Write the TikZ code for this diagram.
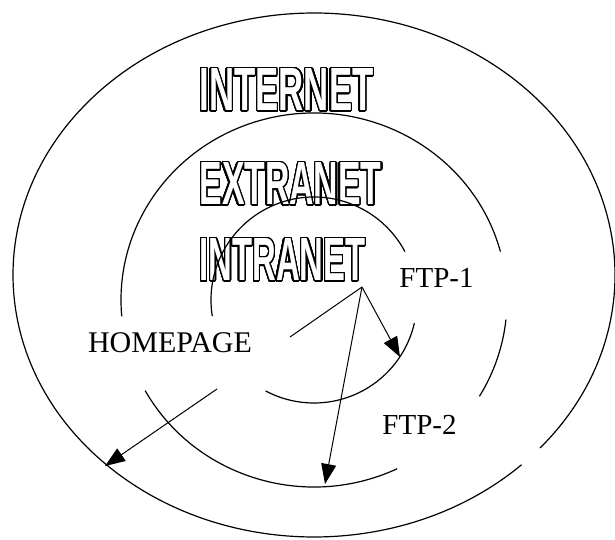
\documentclass[tikz,border=0pt]{standalone}
\usepackage{fontspec}
\setmainfont{Liberation Serif}
\newfontfamily\netfont{Liberation Sans}
\usepackage{graphicx}
\usepackage{contour}
\contourlength{1.4pt}
\contournumber{32}
\usetikzlibrary{arrows.meta}
\tikzset{
  ring/.style={line width=1.2pt},
  conn/.style={line width=1pt},
  arr/.style={conn, -{Triangle[length=20pt,width=15pt]}},
  lbl/.style={font=\fontsize{30}{36}\selectfont, inner sep=0pt, anchor=base},
  netlbl/.style={text=white, inner sep=0pt, anchor=center}
}
\newcommand\netword[3]{\contour{black}{\resizebox{#1pt}{#2pt}{\netfont\bfseries #3}}}
\begin{document}
\begin{tikzpicture}[x=1pt,y=1pt]
\useasboundingbox (0,0) rectangle (615,539);
\fill[white] (0,0) rectangle (615,539);
% words
\node[netlbl] (internet) at (286.5,448.5) {\netword{174}{42}{INTERNET}};
\node[netlbl] (extranet) at (290.5,354.5) {\netword{182}{42}{EXTRANET}};
\node[netlbl] (intranet) at (282.5,278.5) {\netword{166}{42}{INTRANET}};
% outer ring
\draw[ring] ([shift={(-41.3:301pt and 262pt)}]314,264) arc[start angle=-41.3, end angle=313.6, x radius=301pt, y radius=262pt];
% middle ring
\draw[ring] ([shift={(15:193pt and 187pt)}]314,239) arc[start angle=15, end angle=185, x radius=193pt, y radius=187pt];
\draw[ring] ([shift={(209:193pt and 187pt)}]314,239) arc[start angle=209, end angle=295.5, x radius=193pt, y radius=187pt];
\draw[ring] ([shift={(329:193pt and 187pt)}]314,239) arc[start angle=329, end angle=354, x radius=193pt, y radius=187pt];
% inner ring
\draw[ring] ([shift={(28:103pt)}]314,239) arc[start angle=28, end angle=189, radius=103pt];
\draw[ring] ([shift={(242:103pt)}]314,239) arc[start angle=242, end angle=347, radius=103pt];
% labels
\node[lbl] (homepage) at (170,187) {HOMEPAGE};
\node[lbl, font=\fontsize{29}{35}\selectfont] (ftp1) at (436.5,252) {FTP-1};
\node[lbl, font=\fontsize{29}{35}\selectfont] (ftp2) at (419.5,105) {FTP-2};
% connectors
\coordinate (src) at (362,252);
\coordinate (hpend) at (290,202);
\coordinate (ftp1tip) at (400,182);
\coordinate (midtip) at (325,55);
\coordinate (hpsrc) at (217,150);
\coordinate (outertip) at (105,73);
\draw[conn] (src) -- (hpend);
\draw[arr] (src) -- (ftp1tip);
\draw[arr] (src) -- (midtip);
\draw[arr] (hpsrc) -- (outertip);
\end{tikzpicture}
\end{document}
